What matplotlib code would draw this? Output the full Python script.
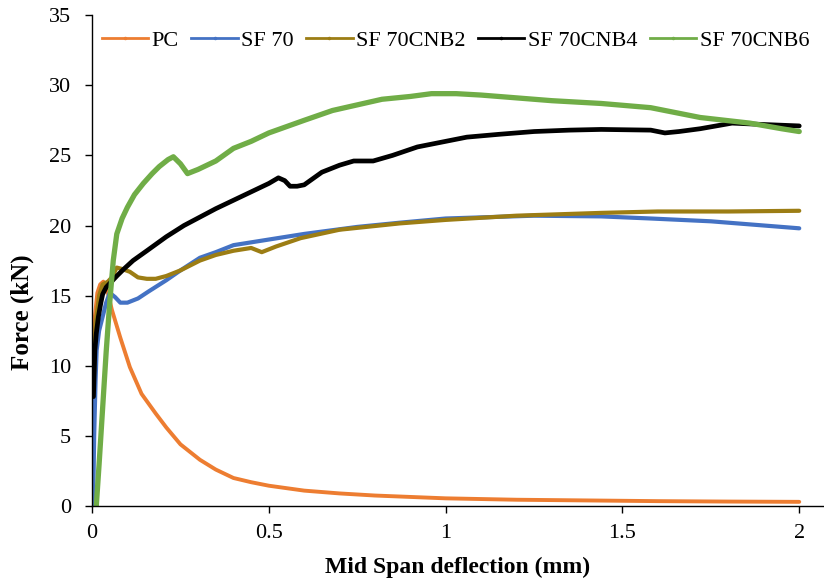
import matplotlib
matplotlib.use("Agg")
import matplotlib.pyplot as plt
from matplotlib.lines import Line2D

plt.rcParams['font.family'] = ['Liberation Serif', 'DejaVu Serif']

labels = ["PC", "SF 70", "SF 70CNB2", "SF 70CNB4", "SF 70CNB6"]
colors = ["#ED7D31", "#4472C4", "#9C7D14", "#000000", "#70AD47"]

pc_x = [0, 0.003, 0.008, 0.015, 0.023, 0.032, 0.042, 0.056, 0.08, 0.107, 0.14, 0.18, 0.21, 0.25,
        0.305, 0.35, 0.40, 0.45, 0.5, 0.6, 0.7, 0.8, 0.9, 1.0, 1.2, 1.4, 1.6, 1.8, 2.0]
pc_y = [0, 9.2, 13.5, 15.2, 15.8, 16.0, 15.5, 14.0, 12.0, 9.9, 8.0, 6.6, 5.6, 4.4,
        3.3, 2.6, 2.0, 1.7, 1.45, 1.1, 0.9, 0.75, 0.65, 0.55, 0.45, 0.4, 0.35, 0.32, 0.3]

sf70_x = [0.003, 0.006, 0.01, 0.013, 0.02, 0.03, 0.04, 0.05, 0.065, 0.08, 0.1, 0.13, 0.16, 0.21,
          0.25, 0.305, 0.35, 0.4, 0.45, 0.5, 0.6, 0.75, 0.87, 1.0, 1.25, 1.44, 1.58, 1.75, 1.9, 2.0]
sf70_y = [0, 5, 9, 11.1, 12.5, 13.5, 14.5, 15.2, 14.9, 14.5, 14.5, 14.8, 15.3, 16.1,
          16.8, 17.7, 18.1, 18.6, 18.8, 19.0, 19.4, 19.9, 20.2, 20.5, 20.7, 20.65, 20.5, 20.3, 20.0, 19.8]

cnb2_x = [0.005, 0.01, 0.02, 0.03, 0.045, 0.056, 0.07, 0.085, 0.107, 0.13, 0.155, 0.18, 0.21, 0.25,
          0.305, 0.35, 0.4, 0.45, 0.48, 0.52, 0.59, 0.7, 0.87, 1.0, 1.2, 1.44, 1.6, 1.8, 2.0]
cnb2_y = [9, 13, 15.0, 15.8, 16.0, 16.3, 17.0, 16.9, 16.7, 16.3, 16.2, 16.2, 16.4, 16.8,
          17.5, 17.9, 18.2, 18.4, 18.1, 18.5, 19.1, 19.7, 20.15, 20.4, 20.7, 20.9, 21.0, 21.0, 21.05]

cnb4_x = [0.004, 0.006, 0.008, 0.012, 0.018, 0.025, 0.03, 0.04, 0.055, 0.07,
          0.09, 0.116, 0.155, 0.21, 0.26, 0.305, 0.35, 0.40, 0.45, 0.5,
          0.527, 0.545, 0.56, 0.58, 0.6, 0.65, 0.7, 0.74, 0.795, 0.85,
          0.92, 1.0, 1.06, 1.15, 1.25, 1.35, 1.44, 1.58, 1.62, 1.66,
          1.72, 1.81, 1.9, 2.0]
cnb4_y = [7.8, 9.5, 11.1, 12.3, 13.5, 14.5, 15.1, 15.6, 16.0, 16.4,
          16.9, 17.5, 18.2, 19.2, 20.0, 20.6, 21.2, 21.8, 22.4, 23.0,
          23.4, 23.2, 22.8, 22.8, 22.9, 23.8, 24.3, 24.6, 24.6, 25.0,
          25.6, 26.0, 26.3, 26.5, 26.7, 26.8, 26.85, 26.8, 26.6, 26.7,
          26.9, 27.3, 27.2, 27.1]

cnb6_x = [0.012, 0.02, 0.03, 0.04, 0.05, 0.06, 0.07, 0.085, 0.1, 0.12,
          0.145, 0.17, 0.19, 0.215, 0.23, 0.25, 0.27, 0.3, 0.35, 0.4,
          0.45, 0.5, 0.6, 0.68, 0.75, 0.82, 0.9, 0.96, 1.03, 1.1,
          1.2, 1.3, 1.44, 1.58, 1.72, 1.86, 1.95, 2.0]
cnb6_y = [0, 3, 7, 11, 14.5, 17.5, 19.4, 20.5, 21.3, 22.2,
          23.0, 23.7, 24.2, 24.7, 24.9, 24.4, 23.7, 24.0, 24.6, 25.5,
          26.0, 26.6, 27.5, 28.2, 28.6, 29.0, 29.2, 29.4, 29.4, 29.3,
          29.1, 28.9, 28.7, 28.4, 27.7, 27.3, 26.9, 26.7]

x_ticks = [0, 0.5, 1, 1.5, 2]
x_tick_labels = ["0", "0.5", "1", "1.5", "2"]
y_ticks = [0, 5, 10, 15, 20, 25, 30, 35]

series = [(pc_x, pc_y), (sf70_x, sf70_y), (cnb2_x, cnb2_y), (cnb4_x, cnb4_y), (cnb6_x, cnb6_y)]
widths = [2.8, 3.0, 3.0, 3.4, 3.8]

fig = plt.figure(figsize=(8.24, 5.81), dpi=100)
ax = fig.add_axes([0.1117, 0.129, 0.8883, 0.845])

for (xs, ys), c, w in zip(series, colors, widths):
    ax.plot(xs, ys, color=c, lw=w, solid_joinstyle='round', solid_capstyle='round')

ax.set_xlim(0, 2.07)
ax.set_ylim(0, 35)
ax.set_xticks(x_ticks)
ax.set_xticklabels(x_tick_labels)
ax.set_yticks(y_ticks)
for s in ['top', 'right']:
    ax.spines[s].set_visible(False)
for s in ['left', 'bottom']:
    ax.spines[s].set_linewidth(1.0)
ax.tick_params(axis='both', direction='out', length=5, width=1.0, labelsize=16)
ax.tick_params(axis='y', pad=10)
ax.tick_params(axis='x', pad=8)

ax.set_xlabel("Mid Span deflection (mm)", fontsize=17, fontweight='bold', labelpad=10)
ax.set_ylabel("Force (kN)", fontsize=18, fontweight='bold')
ax.yaxis.set_label_coords(-0.079, 0.395)

handles = [Line2D([], [], color=c, lw=2, marker='.', markersize=3) for c in colors]
ax.legend(handles, labels, loc='upper left', bbox_to_anchor=(-0.008, 1.0), ncol=5, frameon=False,
          fontsize=16, handlelength=2.1, handletextpad=0.15, columnspacing=0.55,
          borderaxespad=0.3)

fig.savefig("out.png", dpi=100)
